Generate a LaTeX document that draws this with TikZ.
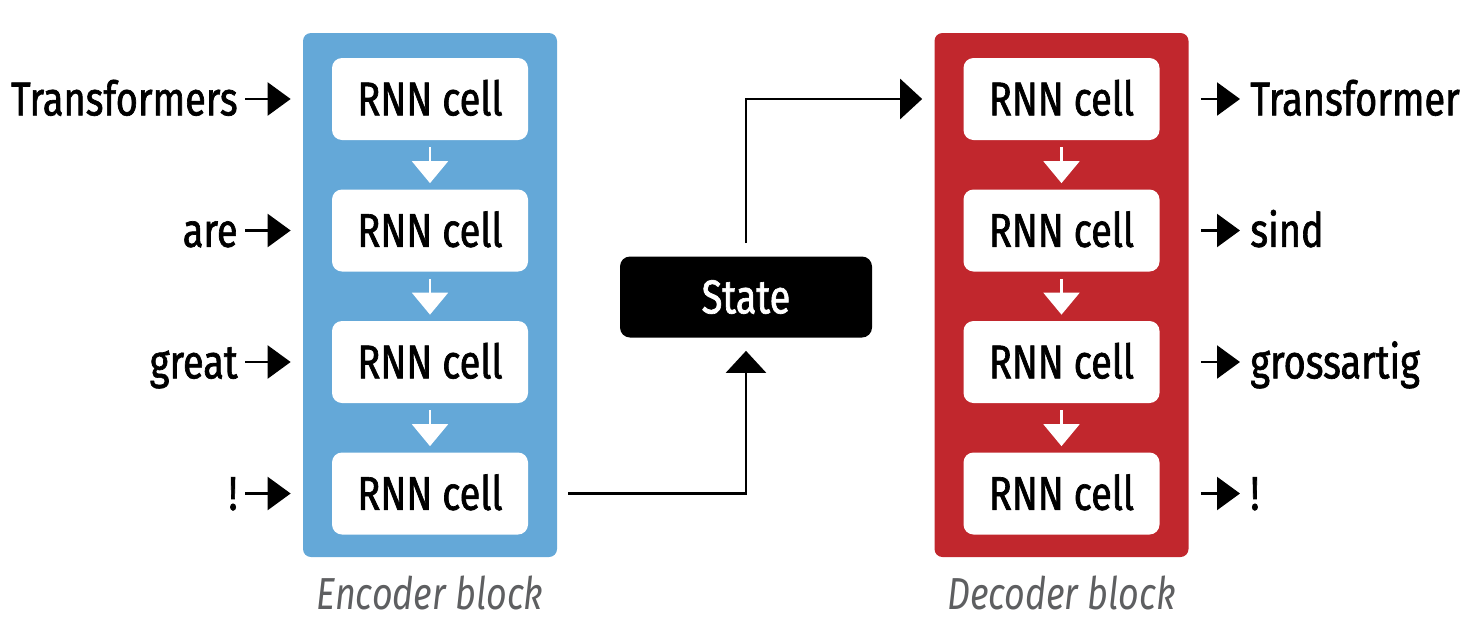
\documentclass[tikz,border=0pt]{standalone}
\usepackage{fontspec}
\setmainfont{Fira Sans}[FakeStretch=0.8, FakeBold=1.4]
\usetikzlibrary{arrows.meta,positioning}
\definecolor{encblue}{HTML}{64A8D8}
\definecolor{decred}{HTML}{C1272D}
\definecolor{capgray}{HTML}{5E5F61}

\begin{document}
\begin{tikzpicture}[
	block/.style={rounded corners=0.16cm, minimum width=5.08cm, minimum height=10.48cm},
	cell/.style={fill=white, rounded corners=0.2cm, minimum width=3.92cm, minimum height=1.64cm,
		text height=18.6pt, text depth=0pt},
	word/.style={inner sep=0pt, text height=18.6pt, text depth=0pt},
	caption/.style={text=capgray, font=\fontsize{25.5}{28}\selectfont\addfontfeature{FakeBold=0}\itshape},
	inarrow/.style={-{Triangle[length=0.46cm,width=0.66cm]}, line width=1.3pt},
	cellarrow/.style={-{Triangle[length=0.44cm,width=0.72cm]}, line width=1.2pt, white,
		shorten <=0.14cm, shorten >=0.12cm},
	statearrow/.style={-{Triangle[length=0.44cm,width=0.8cm]}, line width=1.5pt}
	]
	\useasboundingbox (0,0) rectangle (29.4,-12.52);
	\begin{scope}[font=\fontsize{27}{30}\selectfont]
		% encoder
		\draw (8.6,-5.9) node[block, fill=encblue](enc) {};
		\draw (8.6,-1.98) node[cell](enc1) {RNN cell};
		\draw (8.6,-4.61) node[cell](enc2) {RNN cell};
		\draw (8.6,-7.24) node[cell](enc3) {RNN cell};
		\draw (8.6,-9.87) node[cell](enc4) {RNN cell};
		\draw (8.6,-11.86) node[caption](enclabel) {Encoder block};

		% decoder
		\draw (21.23,-5.9) node[block, fill=decred](dec) {};
		\draw (21.23,-1.98) node[cell](dec1) {RNN cell};
		\draw (21.23,-4.61) node[cell](dec2) {RNN cell};
		\draw (21.23,-7.24) node[cell](dec3) {RNN cell};
		\draw (21.23,-9.87) node[cell](dec4) {RNN cell};
		\draw (21.23,-11.86) node[caption](declabel) {Decoder block};

		% state
		\draw (14.92,-5.94) node[fill=black, text=white, rounded corners=0.2cm, minimum width=5.04cm,
			minimum height=1.62cm, text height=18.6pt, text depth=0pt](state) {State};

		% input words
		\draw (4.76,-1.98) node[word, anchor=east](in1) {Transformers};
		\draw (4.76,-4.61) node[word, anchor=east](in2) {are};
		\draw (4.76,-7.24) node[word, anchor=east](in3) {great};
		\draw (4.76,-9.87) node[word, anchor=east](in4) {!};

		% output words
		\draw (25.0,-1.98) node[word, anchor=west](out1) {Transformer};
		\draw (25.0,-4.61) node[word, anchor=west](out2) {sind};
		\draw (25.0,-7.24) node[word, anchor=west](out3) {grossartig};
		\draw (25.0,-9.87) node[word, anchor=west](out4) {!};

		\draw [inarrow, shorten <=0.14cm, shorten >=0.24cm] (in1) -- (in1 -| enc.west);
		\draw [inarrow, shorten <=0.14cm, shorten >=0.24cm] (in2) -- (in2 -| enc.west);
		\draw [inarrow, shorten <=0.14cm, shorten >=0.24cm] (in3) -- (in3 -| enc.west);
		\draw [inarrow, shorten <=0.14cm, shorten >=0.24cm] (in4) -- (in4 -| enc.west);

		\draw [inarrow, shorten <=0.24cm, shorten >=0.2cm] (out1 -| dec.east) -- (out1);
		\draw [inarrow, shorten <=0.24cm, shorten >=0.2cm] (out2 -| dec.east) -- (out2);
		\draw [inarrow, shorten <=0.24cm, shorten >=0.2cm] (out3 -| dec.east) -- (out3);
		\draw [inarrow, shorten <=0.24cm, shorten >=0.2cm] (out4 -| dec.east) -- (out4);

		\draw [cellarrow] (enc1) -- (enc2);
		\draw [cellarrow] (enc2) -- (enc3);
		\draw [cellarrow] (enc3) -- (enc4);
		\draw [cellarrow] (dec1) -- (dec2);
		\draw [cellarrow] (dec2) -- (dec3);
		\draw [cellarrow] (dec3) -- (dec4);

		\draw [statearrow, shorten <=0.8cm, shorten >=0.26cm] (enc4) -| (state);
		\draw [statearrow, shorten <=0.26cm, shorten >=0.82cm] (state) |- (dec1);
	\end{scope}
\end{tikzpicture}
\end{document}
